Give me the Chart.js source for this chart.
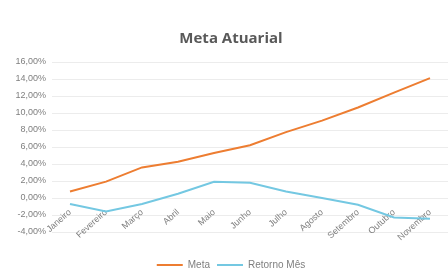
<!DOCTYPE html>
<html>
<head>
<meta charset="utf-8">
<script src="https://cdn.jsdelivr.net/npm/chart.js@4"></script>
<style>
  html, body { margin: 0; padding: 0; background: #fff; }
  #wrap { width: 448px; height: 280px; position: relative; }
</style>
</head>
<body>
<div id="wrap"><canvas id="chart"></canvas></div>
<script>
const months = ['Janeiro', 'Fevereiro', 'Março', 'Abril', 'Maio', 'Junho', 'Julho', 'Agosto', 'Setembro', 'Outubro', 'Novembro'];
const meta = [0.77, 1.93, 3.6, 4.26, 5.3, 6.2, 7.75, 9.1, 10.65, 12.4, 14.1];
const retornoMes = [-0.7, -1.6, -0.7, 0.5, 1.9, 1.8, 0.77, 0.0, -0.8, -2.3, -2.45];

const ctx = document.getElementById('chart').getContext('2d');
const gray = '#7f7f7f';

new Chart(ctx, {
    type: 'line',
    data: {
        labels: months,
        datasets: [{
            label: 'Meta',
            data: meta,
            borderColor: '#ed7d31',
            backgroundColor: '#ed7d31',
            borderWidth: 2,
            pointRadius: 0,
            tension: 0,
            fill: false
        }, {
            label: 'Retorno Mês',
            data: retornoMes,
            borderColor: '#74c8e2',
            backgroundColor: '#74c8e2',
            borderWidth: 2,
            pointRadius: 0,
            tension: 0,
            fill: false
        }]
    },
    options: {
        responsive: true,
        maintainAspectRatio: false,
        animation: false,
        layout: { padding: { left: 14, right: 0, top: 0, bottom: 0 } },
        scales: {
            x: {
                position: { y: 0 },
                offset: true,
                grid: { display: false },
                border: { display: false },
                ticks: {
                    color: gray,
                    font: { family: 'Liberation Sans', size: 9 },
                    minRotation: 42,
                    maxRotation: 42,
                    autoSkip: false,
                    padding: 1
                }
            },
            // empty axis, only keeps a gap between plot and legend
            gap: {
                type: 'category',
                position: 'bottom',
                labels: months,
                afterFit: scale => { scale.height = 21; },
                grid: { display: false },
                border: { display: false },
                ticks: { display: false }
            },
            y: {
                min: -4,
                max: 16,
                afterFit: scale => { scale.width = 38; },
                grid: { color: '#ececec', drawTicks: false },
                border: { display: false },
                ticks: {
                    stepSize: 2,
                    color: gray,
                    padding: 6,
                    font: { family: 'Liberation Sans', size: 9 },
                    callback: v => v.toFixed(2).replace('.', ',') + '%'
                }
            }
        },
        plugins: {
            title: {
                display: true,
                text: 'Meta Atuarial',
                color: '#595959',
                font: { family: 'Open Sans', size: 15, weight: 'bold' },
                padding: { top: 30, bottom: 14 }
            },
            legend: {
                position: 'bottom',
                labels: {
                    color: gray,
                    font: { family: 'Liberation Sans', size: 10 },
                    usePointStyle: true,
                    pointStyle: 'line',
                    pointStyleWidth: 26,
                    padding: 7
                }
            },
            tooltip: { enabled: false }
        }
    }
});
</script>
</body>
</html>
